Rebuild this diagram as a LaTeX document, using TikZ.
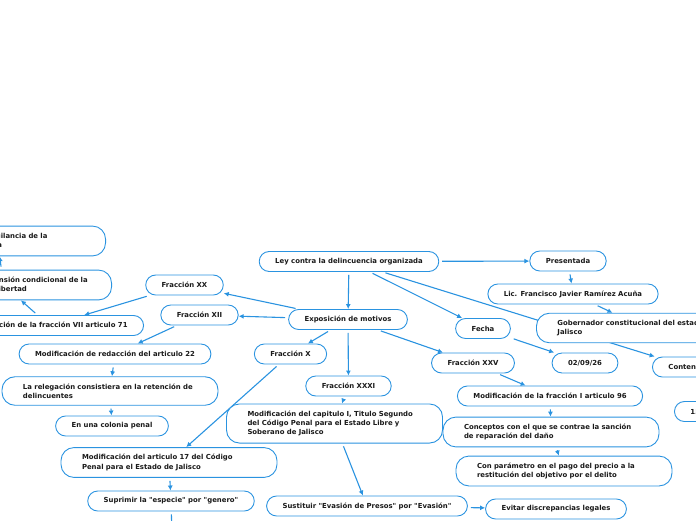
\documentclass[tikz,border=0pt]{standalone}
\usepackage{fontspec}
\setmainfont{DejaVu Sans}
\usetikzlibrary{arrows.meta,backgrounds}
\definecolor{mapblue}{HTML}{2A93E0}
\definecolor{ink}{HTML}{1A1A1A}
\newcommand{\qq}[1]{\textquotedbl#1\textquotedbl}

\begin{document}
\begin{tikzpicture}[x=1pt,y=-1pt,
  topic/.style={draw=mapblue,line width=0.9pt,fill=white,rounded corners=10pt,
    inner xsep=16pt,inner ysep=0pt,minimum height=20pt,text=ink,
    font=\fontsize{6.9}{9.3}\selectfont\bfseries},
  wide/.style={topic,rounded corners=13pt,align=left,text width=174pt,inner xsep=21pt,inner ysep=6.8pt},
  link/.style={draw=mapblue,line width=1.1pt,-{Latex[length=5pt,width=5pt]},shorten <=3pt}]
\useasboundingbox (0,0) rectangle (696,520);
\node[topic] (ley) at (349,261.5) {Ley contra la delincuencia organizada};
\node[topic] (expo) at (348,319.5) {Exposición de motivos};
\node[topic] (pres) at (568,261) {Presentada};
\node[topic] (lic) at (573,294) {Lic. Francisco Javier Ramírez Acuña};
\node[wide,anchor=west] (gob) at (536,328) {Gobernador constitucional del estado de\\Jalisco};
\node[topic] (fecha) at (483,328.5) {Fecha};
\node[topic] (fdate) at (585,363) {02/09/26};
\node[topic,anchor=west] (cont) at (652,367) {Contenido};
\node[topic,anchor=west] (quince) at (674,411.5) {15 artículos};
\node[topic] (xxv) at (473,363) {Fracción XXV};
\node[topic] (m96) at (550,396) {Modificación de la fracción I articulo 96};
\node[wide] (concep) at (551,432) {Conceptos con el que se contrae la sanción\\de reparación del daño};
\node[wide] (param) at (564,471) {Con parámetro en el pago del precio a la\\restitución del objetivo por el delito};
\node[topic] (xxxi) at (348.5,386) {Fracción XXXI};
\node[wide] (mcap) at (334.5,423.5) {Modificación del capitulo I, Titulo Segundo\\del Código Penal para el Estado Libre y\\Soberano de Jalisco};
\node[topic] (sust) at (367,506) {Sustituir \qq{Evasión de Presos} por \qq{Evasión}};
\node[topic] (evitar) at (556,509) {Evitar discrepancias legales};
\node[topic] (fx) at (290.5,354) {Fracción X};
\node[wide] (m17) at (169,462.5) {Modificación del articulo 17 del Código\\Penal para el Estado de Jalisco};
\node[topic] (supr) at (171,501) {Suprimir la \qq{especie} por \qq{genero}};
\coordinate (suprnext) at (172,535);
\node[topic] (fxx) at (184.5,285) {Fracción XX};
\node[topic] (fxii) at (199.5,315) {Fracción XII};
\node[topic] (m22) at (115,354) {Modificación de redacción del articulo 22};
\node[wide] (releg) at (110,391) {La relegación consistiera en la retención de\\delincuentes};
\node[topic] (colonia) at (112,426) {En una colonia penal};
\node[topic,anchor=east] (derog) at (144,325.5) {Derogación de la fracción VII articulo 71};
\node[wide,anchor=east] (susp) at (112,285) {Negación de la suspensión condicional de la\\pena privativa de la libertad};
\node[wide,anchor=east] (vigil) at (106,241) {Sustitución por una vigilancia de la\\autoridad penitenciaria};
\begin{scope}[on background layer]
\draw[link] (ley) -- (expo);
\draw[link] (ley) -- (pres);
\draw[link] (ley) -- (fecha);
\draw[link] (ley) -- (cont);
\draw[link] (pres) -- (lic);
\draw[link] (lic) -- (gob);
\draw[link] (fecha) -- (fdate);
\draw[link] (expo) -- (fxx);
\draw[link] (expo) -- (fxii);
\draw[link] (expo) -- (fx);
\draw[link] (expo) -- (xxxi);
\draw[link] (expo) -- (xxv);
\draw[link] (xxv) -- (m96);
\draw[link] (m96) -- (concep);
\draw[link] (concep) -- (param);
\draw[link] (xxxi) -- (mcap);
\draw[link] (mcap) -- (sust);
\draw[link] (sust) -- (evitar);
\draw[link] (fx) -- (m17);
\draw[link] (m17) -- (supr);
\draw[link] (supr) -- (suprnext);
\draw[link] (fxx) -- (derog);
\draw[link] (derog) -- (susp);
\draw[link] (susp) -- (vigil);
\draw[link] (fxii) -- (m22);
\draw[link] (m22) -- (releg);
\draw[link] (releg) -- (colonia);
\end{scope}
\end{tikzpicture}
\end{document}
